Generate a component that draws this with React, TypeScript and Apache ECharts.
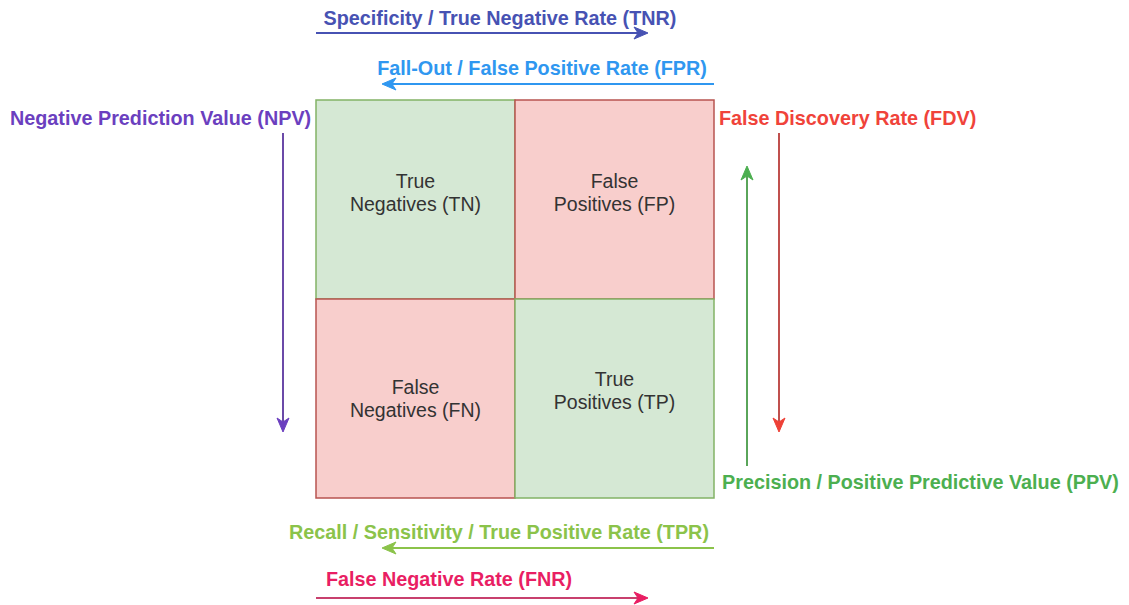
import React, { useEffect, useRef } from "react";
import * as echarts from "echarts";

// ---- data ----
const predictedCategories = ["Predicted Negative", "Predicted Positive"];
const actualCategories = ["Actual Positive", "Actual Negative"];
const cellNames = ["True\nNegatives (TN)", "False\nPositives (FP)", "False\nNegatives (FN)", "True\nPositives (TP)"];
const cellPredicted = [0, 1, 0, 1];
const cellActual = [1, 1, 0, 0];
const cellCorrect = [1, 0, 0, 1];

const metricNames = [
  "Specificity / True Negative Rate (TNR)",
  "Fall-Out / False Positive Rate (FPR)",
  "Negative Prediction Value (NPV)",
  "False Discovery Rate (FDV)",
  "Precision / Positive Predictive Value (PPV)",
  "Recall / Sensitivity / True Positive Rate (TPR)",
  "False Negative Rate (FNR)",
];

// ---- layout / style (not data) ----
const labelShift = [-7, -7, 0, -8];
const FONT = '"Liberation Sans", Arial, Helvetica, sans-serif';

type Ann = {
  text: { x: number; y: number; align: string; color: string };
  arrow: { x1: number; y1: number; x2: number; y2: number; line: string; head: string };
};
const annotations: Ann[] = [
  { text: { x: 500, y: 18, align: "center", color: "#4752b3" }, arrow: { x1: 316, y1: 33, x2: 648, y2: 33, line: "#4752b3", head: "#4752b3" } },
  { text: { x: 542, y: 68, align: "center", color: "#2f97f0" }, arrow: { x1: 714, y1: 84, x2: 382, y2: 84, line: "#2f97f0", head: "#2f97f0" } },
  { text: { x: 10, y: 118, align: "left", color: "#6b3fbf" }, arrow: { x1: 283, y1: 133, x2: 283, y2: 432, line: "#6b4aa8", head: "#6b3fbf" } },
  { text: { x: 719, y: 118, align: "left", color: "#f0433a" }, arrow: { x1: 779, y1: 133, x2: 779, y2: 432, line: "#c0504d", head: "#ee4036" } },
  { text: { x: 722, y: 482, align: "left", color: "#4caf50" }, arrow: { x1: 747, y1: 466, x2: 747, y2: 166, line: "#5aa55a", head: "#4caf50" } },
  { text: { x: 499, y: 532, align: "center", color: "#8bc34a" }, arrow: { x1: 714, y1: 548, x2: 382, y2: 548, line: "#8bc34a", head: "#8bc34a" } },
  { text: { x: 449, y: 579, align: "center", color: "#e91e63" }, arrow: { x1: 316, y1: 598, x2: 648, y2: 598, line: "#c8406e", head: "#e91e63" } },
];

function arrowGraphics(a: Ann["arrow"]) {
  const dx = a.x2 - a.x1;
  const dy = a.y2 - a.y1;
  const len = Math.sqrt(dx * dx + dy * dy);
  const ux = dx / len;
  const uy = dy / len;
  const px = -uy;
  const py = ux;
  const L = 14;
  const W = 6;
  const notch = 4;
  const tip = [a.x2, a.y2];
  const back = [a.x2 - ux * L, a.y2 - uy * L];
  const mid = [a.x2 - ux * (L - notch), a.y2 - uy * (L - notch)];
  return [
    {
      type: "line",
      shape: { x1: a.x1, y1: a.y1, x2: mid[0], y2: mid[1] },
      style: { stroke: a.line, lineWidth: 2 },
    },
    {
      type: "polygon",
      shape: {
        points: [
          tip,
          [back[0] + px * W, back[1] + py * W],
          mid,
          [back[0] - px * W, back[1] - py * W],
        ],
      },
      style: { fill: a.head, stroke: a.head, lineWidth: 1 },
    },
  ];
}

export default function App() {
  const ref = useRef<HTMLDivElement>(null);
  useEffect(() => {
    if (!ref.current) return;
    const chart = echarts.init(ref.current, undefined, { renderer: "svg" });
    const graphics: any[] = [];
    annotations.forEach((a, i) => {
      graphics.push({
        type: "text",
        x: a.text.x,
        y: a.text.y,
        style: {
          text: metricNames[i],
          fill: a.text.color,
          font: `bold 19.8px ${FONT}`,
          align: a.text.align,
          verticalAlign: "middle",
        },
      });
      graphics.push(...arrowGraphics(a.arrow));
    });

    const data = cellNames.map((_, i) => [cellPredicted[i], cellActual[i], cellCorrect[i], i]);

    chart.setOption({
      animation: false,
      grid: { left: 316, top: 100, width: 398, height: 398 },
      xAxis: { type: "category", data: predictedCategories, show: false },
      yAxis: { type: "category", data: actualCategories, show: false },
      series: [
        {
          type: "custom",
          data,
          renderItem: (params: any, api: any) => {
            const c = api.coord([api.value(0), api.value(1)]);
            const s = api.size([1, 1]);
            const correct = api.value(2) === 1;
            const idx = api.value(3);
            return {
              type: "group",
              children: [
                {
                  type: "rect",
                  shape: { x: c[0] - s[0] / 2, y: c[1] - s[1] / 2, width: s[0], height: s[1] },
                  style: {
                    fill: correct ? "#d5e8d4" : "#f8cecc",
                    stroke: correct ? "#82b366" : "#b85450",
                    lineWidth: 1.5,
                  },
                },
                {
                  type: "text",
                  x: c[0],
                  y: c[1] + labelShift[idx],
                  style: {
                    text: cellNames[idx],
                    fill: "#333333",
                    font: `19.5px ${FONT}`,
                    lineHeight: 23,
                    align: "center",
                    verticalAlign: "middle",
                  },
                },
              ],
            };
          },
        },
      ],
      graphic: graphics,
    });
    return () => chart.dispose();
  }, []);
  return (
    <div
      ref={ref}
      style={{ position: "absolute", left: 0, top: 0, width: 1129, height: 605, background: "#ffffff" }}
    />
  );
}
